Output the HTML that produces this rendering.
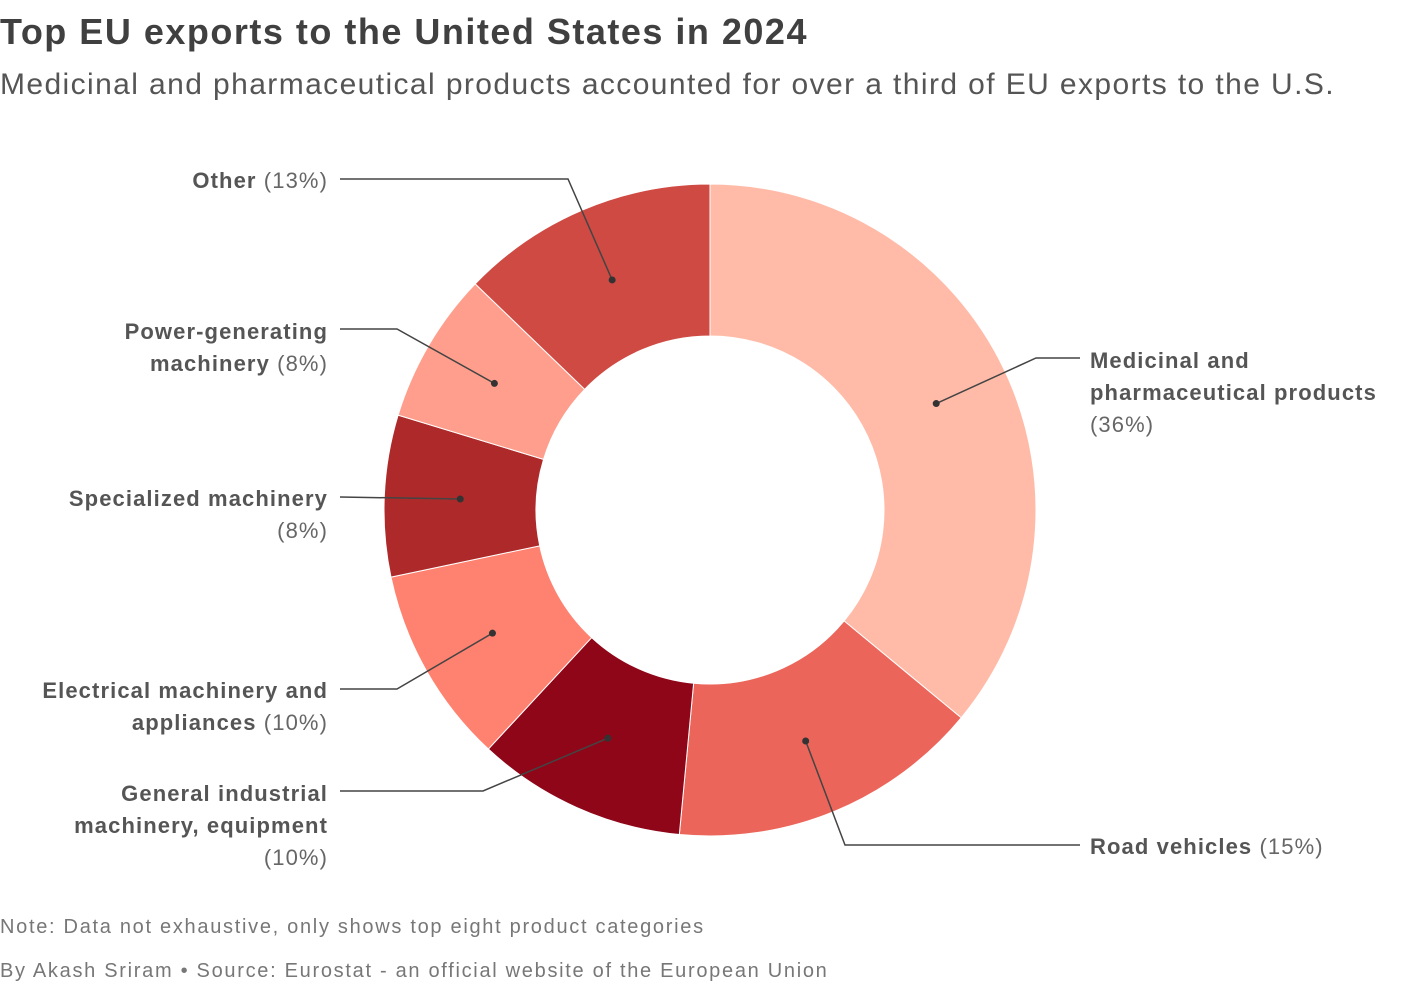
<!DOCTYPE html>
<html><head><meta charset="utf-8">
<style>
body{margin:0;background:#fff;width:1420px;height:986px;overflow:hidden;font-family:"Liberation Sans",sans-serif;}
.t{position:absolute;left:0;top:11px;font-size:36px;font-weight:bold;color:#404040;letter-spacing:1.5px}
.s{position:absolute;left:0;top:68px;font-size:30px;color:#555;letter-spacing:1.4px}
.n{position:absolute;left:0;font-size:20px;color:#777;letter-spacing:1.7px}
</style></head><body>
<div class="t">Top EU exports to the United States in 2024</div>
<div class="s">Medicinal and pharmaceutical products accounted for over a third of EU exports to the U.S.</div>
<svg id="c" width="1420" height="986" style="position:absolute;left:0;top:0"></svg>
<div class="n" style="top:916px">Note: Data not exhaustive, only shows top eight product categories</div>
<div class="n" style="top:960px">By Akash Sriram • Source: Eurostat - an official website of the European Union</div>
<script>
const categories=["Medicinal and pharmaceutical products","Road vehicles","General industrial machinery, equipment","Electrical machinery and appliances","Specialized machinery","Power-generating machinery","Other"];
const values=[36,15.5,10.4,9.8,8.0,7.5,12.8];
const colors=["#ffbba8","#ec655a","#8e0618","#ff8170","#ae2a2a","#ff9e8c","#cf4a43"];
const labelLines=[["<b>Medicinal and</b>","<b>pharmaceutical products</b>","(36%)"],["<b>Road vehicles</b> (15%)"],["<b>General industrial</b>","<b>machinery, equipment</b>","(10%)"],["<b>Electrical machinery and</b>","<b>appliances</b> (10%)"],["<b>Specialized machinery</b>","(8%)"],["<b>Power-generating</b>","<b>machinery</b> (8%)"],["<b>Other</b> (13%)"]];
const elbows=[[[1036,358],[1080,358]],[[845,845],[1080,845]],[[483,791],[340,791]],[[397,689],[340,689]],[[340,497]],[[397,329],[340,329]],[[568,179],[340,179]]];
const labelPos=[[1090,360,"start"],[1090,846,"start"],[328,793,"end"],[328,690,"end"],[328,498,"end"],[328,331,"end"],[328,180,"end"]];
const cx=710,cy=510,R=326,r=174,rm=250;
const svg=document.getElementById('c');const NS="http://www.w3.org/2000/svg";
const total=values.reduce((a,b)=>a+b,0);
function pt(a,rad){return [cx+rad*Math.sin(a),cy-rad*Math.cos(a)];}
let acc=0;
values.forEach((v,i)=>{
 const a0=acc/total*2*Math.PI;acc+=v;const a1=acc/total*2*Math.PI;
 const lg=(a1-a0)>Math.PI?1:0;
 const p1=pt(a0,R),p2=pt(a1,R),p3=pt(a1,r),p4=pt(a0,r);
 const p=document.createElementNS(NS,'path');
 p.setAttribute('d',`M${p1}L${p1}A${R},${R} 0 ${lg} 1 ${p2}L${p3}A${r},${r} 0 ${lg} 0 ${p4}Z`.replace(/(\d),(\d)/g,'$1 $2'));
 p.setAttribute('fill',colors[i]);p.setAttribute('stroke','#fff');p.setAttribute('stroke-width','1');
 
 
 svg.appendChild(p);
 const d=pt((a0+a1)/2,rm);
 const pl=document.createElementNS(NS,'polyline');
 pl.setAttribute('points',[d].concat(elbows[i]).map(q=>q.join(',')).join(' '));
 pl.setAttribute('fill','none');pl.setAttribute('stroke','#444');pl.setAttribute('stroke-width','1.5');
 
 
 svg.appendChild(pl);
 const c=document.createElementNS(NS,'circle');c.setAttribute('cx',d[0]);c.setAttribute('cy',d[1]);c.setAttribute('r',3.5);c.setAttribute('fill','#333');
 
 
 svg.appendChild(c);
 const [lx,ly,anc]=labelPos[i];
 const t=document.createElementNS(NS,'text');
 
 
 t.setAttribute('text-anchor',anc);t.setAttribute('font-size','22');t.setAttribute('fill','#666');
 t.setAttribute('letter-spacing','1.1');
 t.setAttribute('font-family','Liberation Sans, sans-serif');
 t.innerHTML=labelLines[i].map((l,k)=>`<tspan x="${lx}" y="${ly+8+k*32}">${l.replace(/<b>/g,'<tspan font-weight="bold" fill="#555">').replace(/<\/b>/g,'</tspan>')}</tspan>`).join('');
 svg.appendChild(t);
});
</script>
</body></html>
